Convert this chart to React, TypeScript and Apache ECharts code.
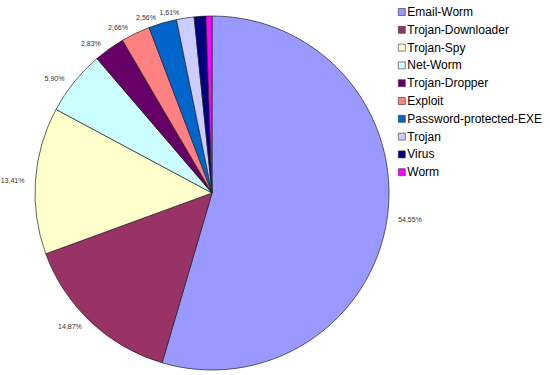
import React, { useEffect, useRef } from "react";
import * as echarts from "echarts";

const categories = [
  "Email-Worm",
  "Trojan-Downloader",
  "Trojan-Spy",
  "Net-Worm",
  "Trojan-Dropper",
  "Exploit",
  "Password-protected-EXE",
  "Trojan",
  "Virus",
  "Worm",
];
const values = [54.55, 14.87, 13.41, 5.9, 2.83, 2.66, 2.56, 1.61, 1.07, 0.54];
const showLabel = [true, true, true, true, true, true, true, true, false, false];
const colors = [
  "#9999FF",
  "#993366",
  "#FFFFCC",
  "#CCFFFF",
  "#660066",
  "#FF8080",
  "#0066CC",
  "#CCCCFF",
  "#000080",
  "#FF00FF",
];

export default function App() {
  const ref = useRef<HTMLDivElement>(null);
  useEffect(() => {
    if (!ref.current) return;
    const chart = echarts.init(ref.current, null, { renderer: "svg" });
    chart.setOption({
      animation: false,
      backgroundColor: "#ffffff",
      color: colors,
      legend: {
        orient: "vertical",
        left: 393,
        top: 1,
        itemWidth: 7,
        itemHeight: 7,
        itemGap: 5.8,
        icon: "rect",
        itemStyle: { borderColor: "#333", borderWidth: 0.6 },
        textStyle: {
          fontFamily: "Liberation Sans, Arial, sans-serif",
          fontSize: 12,
          color: "#000",
          padding: [0, 0, 0, -3],
        },
        data: categories,
      },
      series: [
        {
          type: "pie",
          center: [212, 193],
          radius: 177,
          startAngle: 90,
          clockwise: true,
          avoidLabelOverlap: false,
          itemStyle: { borderColor: "#222", borderWidth: 0.7 },
          label: {
            show: true,
            position: "outside",
            fontFamily: "Liberation Sans, Arial, sans-serif",
            fontSize: 7,
            color: "#333",
            formatter: (p: any) => p.value.toFixed(2).replace(".", ",") + "%",
          },
          labelLine: { show: false, length: 6, length2: 0 },
          data: categories.map((name, i) => ({
            name,
            value: values[i],
            label: { show: showLabel[i] },
          })),
        },
      ],
    });
    return () => chart.dispose();
  }, []);
  return (
    <div
      ref={ref}
      style={{ position: "absolute", left: 0, top: 0, width: 550, height: 375 }}
    />
  );
}
